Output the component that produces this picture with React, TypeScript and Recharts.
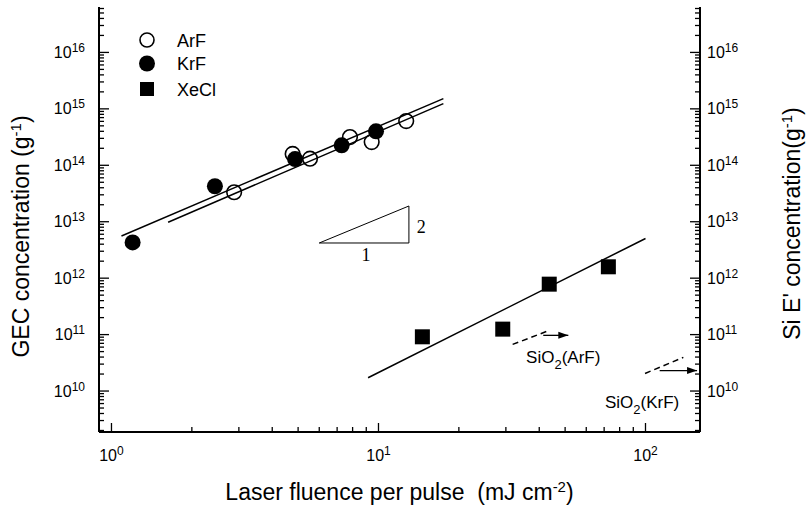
import React from 'react';
import { ScatterChart, Scatter, XAxis, YAxis, Legend } from 'recharts';

// ---- data ----
const arfX = [2.88, 4.77, 5.54, 7.82, 9.43, 12.7];
const arfY = [3.33e13, 1.59e14, 1.31e14, 3.16e14, 2.58e14, 6.08e14];
const krfX = [1.2, 2.44, 4.87, 7.28, 9.79];
const krfY = [4.3e12, 4.25e13, 1.29e14, 2.26e14, 4.0e14];
const xeclX = [14.6, 29.2, 43.6, 72.6];
const xeclY = [9.14e10, 1.25e11, 7.83e11, 1.59e12];

const fitKrFX = [1.09, 17.5];
const fitKrFY = [5.6e12, 1.52e15];
const fitArFX = [1.63, 17.5];
const fitArFY = [9.8e12, 1.24e15];
const fitXeClX = [9.14, 100];
const fitXeClY = [1.72e10, 5.05e12];

const slopeX = [6.0, 13.0, 13.0, 6.0];
const slopeY = [4.2e12, 1.9e13, 4.2e12, 4.2e12];

const arfDashX = [31.8, 43.9];
const arfDashY = [6.7e10, 1.2e11];
const arfArrowX = [41.4, 51.4];
const arfArrowY = [9.7e10, 9.7e10];
const krfDashX = [99.6, 138.6];
const krfDashY = [2.05e10, 3.95e10];
const krfArrowX = [113, 156];
const krfArrowY = [2.3e10, 2.3e10];

const noteLabels = ['SiO2(ArF)', 'SiO2(KrF)', '2', '1'];
const noteX = [35.7, 70.5, 13.9, 8.98];
const noteY = [3.13e10, 5.0e9, 6.25e12, 2.0e12];

const legendNames = ['ArF', 'KrF', 'XeCl'];

const xMajorExps = [0, 1, 2];
const yMajorExps = [9, 10, 11, 12, 13, 14, 15, 16];
const minorMult = [1, 2, 3, 4, 5, 6, 7, 8, 9];

const X_DOMAIN: [number, number] = [0.898, 160];
const Y_DOMAIN: [number, number] = [1.88e9, 6.38e16];

const FONT = '"Liberation Sans", Arial, Helvetica, sans-serif';
const SERIF = '"Liberation Serif", "Times New Roman", serif';

const zip = (xs: number[], ys: number[]) => xs.map((x, i) => ({ x, y: ys[i] }));

const buildTicks = (exps: number[], dom: [number, number]) => {
  const out: number[] = [];
  exps.forEach((k) =>
    minorMult.forEach((m) => {
      const v = m * Math.pow(10, k);
      if (v >= dom[0] && v <= dom[1]) out.push(v);
    })
  );
  return out;
};
const xTicks = buildTicks(xMajorExps, X_DOMAIN);
const yTicks = buildTicks(yMajorExps, Y_DOMAIN);

const isMajor = (v: number) => Math.abs(Math.log10(v) - Math.round(Math.log10(v))) < 1e-6;
const expOf = (v: number) => Math.round(Math.log10(v));

const LeftTick = (p: any) => {
  const { x, y, payload } = p;
  const v = payload.value;
  const m = isMajor(v);
  return (
    <g>
      <line x1={x} y1={y} x2={x + (m ? 10 : 5)} y2={y} stroke="#000" strokeWidth={1.3} />
      {m && (
        <text x={x - 14} y={y + 5.5} textAnchor="end" fontFamily={FONT} fontSize={16} fill="#000">
          10<tspan dy={-6} fontSize={12}>{expOf(v)}</tspan>
        </text>
      )}
    </g>
  );
};

const RightTick = (p: any) => {
  const { x, y, payload } = p;
  const v = payload.value;
  const m = isMajor(v);
  return (
    <g>
      <line x1={x} y1={y} x2={x - (m ? 10 : 5)} y2={y} stroke="#000" strokeWidth={1.3} />
      {m && (
        <text x={x + 7} y={y + 5.5} textAnchor="start" fontFamily={FONT} fontSize={16} fill="#000">
          10<tspan dy={-6} fontSize={12}>{expOf(v)}</tspan>
        </text>
      )}
    </g>
  );
};

const BottomTick = (p: any) => {
  const { x, y, payload } = p;
  const v = payload.value;
  const m = isMajor(v);
  return (
    <g>
      <line x1={x} y1={y} x2={x} y2={y - (m ? 9 : 5)} stroke="#000" strokeWidth={1.3} />
      {m && (
        <text x={x} y={y + 29} textAnchor="middle" fontFamily={FONT} fontSize={16} fill="#000">
          10<tspan dy={-6} fontSize={12}>{expOf(v)}</tspan>
        </text>
      )}
    </g>
  );
};

const XTitle = (p: any) => {
  const vb = p.viewBox || { x: 99, y: 432, width: 601, height: 75 };
  return (
    <text x={vb.x + vb.width / 2} y={vb.y + 68} textAnchor="middle" fontFamily={FONT} fontSize={23} fill="#000">
      Laser fluence per pulse{'\u00a0\u00a0'}(mJ cm<tspan dy={-8} fontSize={15}>-2</tspan>
      <tspan dy={8}>)</tspan>
    </text>
  );
};

const LeftTitle = (p: any) => {
  const vb = p.viewBox || { x: 0, y: 7, width: 99, height: 425 };
  const cx = vb.x + 28.5;
  const cy = vb.y + vb.height / 2 + 17;
  return (
    <text x={cx} y={cy} transform={`rotate(-90 ${cx} ${cy})`} textAnchor="middle" fontFamily={FONT} fontSize={23} fill="#000">
      GEC concentration (g<tspan dy={-8} fontSize={15}>-1</tspan>
      <tspan dy={8}>)</tspan>
    </text>
  );
};

const RightTitle = (p: any) => {
  const vb = p.viewBox || { x: 700, y: 7, width: 106, height: 425 };
  const cx = vb.x + 100;
  const cy = vb.y + vb.height / 2 + 4;
  return (
    <text x={cx} y={cy} transform={`rotate(-90 ${cx} ${cy})`} textAnchor="middle" fontFamily={FONT} fontSize={23} fill="#000">
      Si E' concentration(g<tspan dy={-8} fontSize={15}>-1</tspan>
      <tspan dy={8}>)</tspan>
    </text>
  );
};

const OpenCircle = (p: any) => (
  <circle cx={p.cx} cy={p.cy} r={7.3} fill="none" stroke="#000" strokeWidth={1.6} />
);
const FilledCircle = (p: any) => <circle cx={p.cx} cy={p.cy} r={8} fill="#000" />;
const FilledSquare = (p: any) => <rect x={p.cx - 7.5} y={p.cy - 7.5} width={15} height={15} fill="#000" />;
const NoMark = () => <g />;
const ArrowHead = (p: any) => {
  const { cx, cy, index } = p;
  if (index !== 1) return <g />;
  return <polygon points={`${cx},${cy} ${cx - 10},${cy - 3.5} ${cx - 10},${cy + 3.5}`} fill="#000" />;
};
const NoteText = (p: any) => {
  const { cx, cy, payload } = p;
  const s: string = payload.label;
  if (s.startsWith('SiO2')) {
    return (
      <text x={cx} y={cy} fontFamily={FONT} fontSize={17} fill="#000">
        SiO<tspan dy={6} fontSize={13}>2</tspan>
        <tspan dy={-6}>{s.slice(4)}</tspan>
      </text>
    );
  }
  return (
    <text x={cx} y={cy} textAnchor={s === '1' ? 'middle' : 'start'} fontFamily={SERIF} fontSize={18} fill="#000">
      {s}
    </text>
  );
};

const LegendContent = () => (
  <svg width={120} height={80} style={{ display: 'block' }}>
    {legendNames.map((n, i) => {
      const cy = [12, 35.5, 61][i];
      return (
        <g key={n}>
          {n === 'ArF' && <circle cx={12} cy={cy} r={7} fill="none" stroke="#000" strokeWidth={1.6} />}
          {n === 'KrF' && <circle cx={12} cy={cy} r={8} fill="#000" />}
          {n === 'XeCl' && <rect x={5} y={cy - 7} width={14} height={14} fill="#000" />}
          <text x={42} y={cy + 6.5} fontFamily={FONT} fontSize={18} fill="#000">
            {n}
          </text>
        </g>
      );
    })}
  </svg>
);

const notes = noteLabels.map((label, i) => ({ x: noteX[i], y: noteY[i], label }));

export default function App() {
  return (
    <div style={{ position: 'absolute', left: 0, top: 0, width: 806, height: 507, background: '#fff' }}>
      <ScatterChart width={806} height={507} margin={{ top: 7, right: 0, bottom: 0, left: 0 }}>
        <XAxis
          xAxisId="b"
          dataKey="x"
          type="number"
          scale="log"
          domain={X_DOMAIN}
          allowDataOverflow
          ticks={xTicks}
          interval={0}
          tickSize={0}
          tickMargin={0}
          tickLine={false}
          tick={BottomTick}
          height={75}
          axisLine={{ stroke: '#000', strokeWidth: 2 }}
          label={XTitle}
        />
        <XAxis
          xAxisId="t"
          orientation="top"
          type="number"
          scale="log"
          domain={X_DOMAIN}
          allowDataOverflow
          tick={false}
          tickLine={false}
          height={0}
          axisLine={{ stroke: '#000', strokeWidth: 2 }}
        />
        <YAxis
          yAxisId="l"
          dataKey="y"
          type="number"
          scale="log"
          domain={Y_DOMAIN}
          allowDataOverflow
          ticks={yTicks}
          interval={0}
          tickSize={0}
          tickMargin={0}
          tickLine={false}
          tick={LeftTick}
          width={99}
          axisLine={{ stroke: '#000', strokeWidth: 2 }}
          label={LeftTitle}
        />
        <YAxis
          yAxisId="r"
          orientation="right"
          type="number"
          scale="log"
          domain={Y_DOMAIN}
          allowDataOverflow
          ticks={yTicks}
          interval={0}
          tickSize={0}
          tickMargin={0}
          tickLine={false}
          tick={RightTick}
          width={106}
          axisLine={{ stroke: '#000', strokeWidth: 2 }}
          label={RightTitle}
        />
        <Legend
          layout="vertical"
          align="center"
          verticalAlign="middle"
          content={LegendContent}
          wrapperStyle={{ left: 135, top: 28, width: 120, height: 80 }}
        />

        <Scatter xAxisId="b" yAxisId="l" data={zip(fitKrFX, fitKrFY)} line={{ stroke: '#000', strokeWidth: 1.5 }} lineType="joint" shape={NoMark} legendType="none" isAnimationActive={false} />
        <Scatter xAxisId="b" yAxisId="l" data={zip(fitArFX, fitArFY)} line={{ stroke: '#000', strokeWidth: 1.5 }} lineType="joint" shape={NoMark} legendType="none" isAnimationActive={false} />
        <Scatter xAxisId="b" yAxisId="l" data={zip(fitXeClX, fitXeClY)} line={{ stroke: '#000', strokeWidth: 1.5 }} lineType="joint" shape={NoMark} legendType="none" isAnimationActive={false} />
        <Scatter xAxisId="b" yAxisId="l" data={zip(slopeX, slopeY)} line={{ stroke: '#000', strokeWidth: 1 }} lineType="joint" shape={NoMark} legendType="none" isAnimationActive={false} />
        <Scatter xAxisId="b" yAxisId="l" data={zip(arfDashX, arfDashY)} line={{ stroke: '#000', strokeWidth: 1.5, strokeDasharray: '6 4' }} lineType="joint" shape={NoMark} legendType="none" isAnimationActive={false} />
        <Scatter xAxisId="b" yAxisId="l" data={zip(krfDashX, krfDashY)} line={{ stroke: '#000', strokeWidth: 1.5, strokeDasharray: '6 4' }} lineType="joint" shape={NoMark} legendType="none" isAnimationActive={false} />
        <Scatter xAxisId="b" yAxisId="l" data={zip(arfArrowX, arfArrowY)} line={{ stroke: '#000', strokeWidth: 1.3 }} lineType="joint" shape={ArrowHead} legendType="none" isAnimationActive={false} />
        <Scatter xAxisId="b" yAxisId="l" data={zip(krfArrowX, krfArrowY)} line={{ stroke: '#000', strokeWidth: 1.3 }} lineType="joint" shape={ArrowHead} legendType="none" isAnimationActive={false} />
        <Scatter xAxisId="b" yAxisId="l" data={notes} shape={NoteText} legendType="none" isAnimationActive={false} />

        <Scatter name="XeCl" xAxisId="b" yAxisId="l" data={zip(xeclX, xeclY)} shape={FilledSquare} isAnimationActive={false} />
        <Scatter name="KrF" xAxisId="b" yAxisId="l" data={zip(krfX, krfY)} shape={FilledCircle} isAnimationActive={false} />
        <Scatter name="ArF" xAxisId="b" yAxisId="l" data={zip(arfX, arfY)} shape={OpenCircle} isAnimationActive={false} />
      </ScatterChart>
    </div>
  );
}
